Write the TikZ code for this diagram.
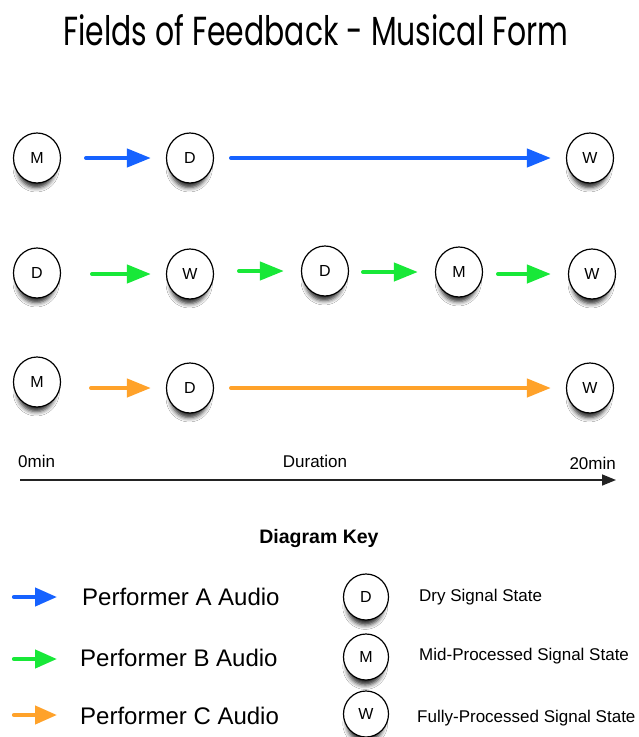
\documentclass[tikz,border=0pt]{standalone}
\usepackage{graphicx}
\usepackage{fontspec}
\setmainfont{Liberation Sans}
\newfontfamily\titlefont{Poppins}
\usetikzlibrary{arrows.meta,shapes.geometric,shadows.blur}

\definecolor{perfA}{RGB}{22,98,255}
\definecolor{perfB}{RGB}{24,232,56}
\definecolor{perfC}{RGB}{255,162,42}
\definecolor{axisgray}{RGB}{35,35,35}

\tikzset{
  state/.style={ellipse, draw=black, line width=1.2pt, fill=white,
    minimum width=47pt, minimum height=50pt, inner sep=0pt,
    font=\fontsize{16}{16}\selectfont,
    blur shadow={shadow xshift=-1pt, shadow yshift=-12pt, shadow opacity=85,
      shadow blur radius=5.5pt, shadow scale=0.8}},
  keystate/.style={state, minimum width=45pt, minimum height=46pt},
  flow/.style={line width=4.2pt, line cap=round,
    -{Triangle[length=24pt,width=18pt]}},
  flowA/.style={flow, draw=perfA, fill=perfA},
  flowB/.style={flow, draw=perfB, fill=perfB},
  flowC/.style={flow, draw=perfC, fill=perfC},
  keyflow/.style={line width=4.2pt, line cap=round,
    -{Triangle[length=22pt,width=18pt]}},
  axis/.style={line width=1.6pt, draw=axisgray,
    -{Triangle[length=14pt,width=11pt]}},
  label/.style={font=\fontsize{17}{17}\selectfont, inner sep=0pt},
  perflabel/.style={font=\fontsize{24}{24}\selectfont, inner sep=0pt, anchor=west},
  keylabel/.style={font=\fontsize{17}{17}\selectfont, inner sep=0pt, anchor=west},
}

\begin{document}
\begin{tikzpicture}[x=1pt, y=-1pt]
  \useasboundingbox[fill=white] (0,0) rectangle (638,737);

  % Title
  \node[anchor=base, inner sep=0pt] (title) at (316,45)
    {\titlefont\resizebox{505pt}{31pt}{Fields of Feedback - Musical Form}};

  % Performer A
  \node[state] (a1) at (37,158) {M};
  \node[state] (a2) at (190,158) {D};
  \node[state] (a3) at (590,158) {W};
  \draw[flowA, shorten <=25pt, shorten >=15pt] (a1.east) -- (a2.west);
  \draw[flowA, shorten <=17pt, shorten >=15pt] (a2.east) -- (a3.west);

  % Performer B
  \node[state] (b1) at (37,273) {D};
  \node[state] (b2) at (190,274) {W};
  \node[state] (b3) at (325,271) {D};
  \node[state] (b4) at (459,272) {M};
  \node[state] (b5) at (592,274) {W};
  \draw[flowB, shorten <=31pt, shorten >=15pt] (b1.east |- b2) -- (b2.west);
  \draw[flowB, shorten <=25pt, shorten >=17pt] (b2.east |- b3) -- (b3.west);
  \draw[flowB, shorten <=14pt, shorten >=17pt] (b3.east |- b4) -- (b4.west);
  \draw[flowB, shorten <=15pt, shorten >=17pt] (b4.east |- b5) -- (b5.west);

  % Performer C
  \node[state] (c1) at (37,382) {M};
  \node[state] (c2) at (190,388) {D};
  \node[state] (c3) at (590,388) {W};
  \draw[flowC, shorten <=30pt, shorten >=15pt] (c1.east |- c2) -- (c2.west);
  \draw[flowC, shorten <=17pt, shorten >=15pt] (c2.east) -- (c3.west);

  % Time axis
  \coordinate (t0) at (20,480);
  \coordinate (t1) at (616,480);
  \draw[axis] (t0) -- (t1);
  \node[label, anchor=west] (tstart) at (18,461) {0min};
  \node[label] (tmid) at (315,461) {Duration};
  \node[label, anchor=east] (tend) at (616,463) {20min};

  % Key
  \node[font=\bfseries\fontsize{19.5}{19.5}\selectfont, inner sep=0pt] (keyhead) at (319,538) {Diagram Key};

  \coordinate (ka0) at (14,597);  \coordinate (ka1) at (57,597);
  \coordinate (kb0) at (14,659);  \coordinate (kb1) at (57,659);
  \coordinate (kc0) at (14,715);  \coordinate (kc1) at (57,715);
  \draw[keyflow, draw=perfA, fill=perfA] (ka0) -- (ka1);
  \draw[keyflow, draw=perfB, fill=perfB] (kb0) -- (kb1);
  \draw[keyflow, draw=perfC, fill=perfC] (kc0) -- (kc1);
  \node[perflabel] (la) at (82,597) {Performer A Audio};
  \node[perflabel] (lb) at (80,658) {Performer B Audio};
  \node[perflabel] (lc) at (80,716) {Performer C Audio};

  \node[keystate] (kd) at (366,597) {D};
  \node[keystate] (km) at (366,657) {M};
  \node[keystate] (kw) at (366,714) {W};
  \node[keylabel] (ld) at (419,597) {Dry Signal State};
  \node[keylabel] (lm) at (419,656) {Mid-Processed Signal State};
  \node[keylabel] (lw) at (417,718) {Fully-Processed Signal State};
\end{tikzpicture}
\end{document}
